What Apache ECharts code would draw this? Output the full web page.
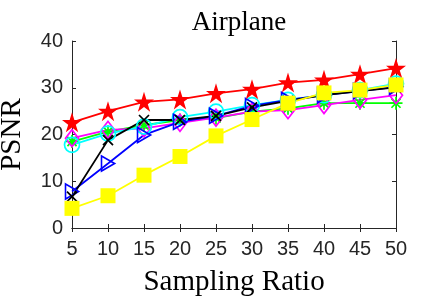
<!DOCTYPE html>
<html><head><meta charset="utf-8">
<script src="https://cdn.jsdelivr.net/npm/echarts@6/dist/echarts.min.js"></script>
<style>html,body{margin:0;padding:0;background:#fff}#c{width:438px;height:297px}</style>
</head><body><div id="c"></div>
<script>
const ratios = [5,10,15,20,25,30,35,40,45,50];
const xTicks = [5,10,15,20,25,30,35,40,45,50];
const yTicks = [0,10,20,30,40];
const greenAst = [18.5,20.6,22.0,23.1,23.5,24.9,25.6,26.7,26.7,26.7];
const magentaDia = [19.2,21.0,21.3,22.5,23.6,24.9,25.2,26.3,27.4,28.4];
const cyanCirc = [17.8,20.2,21.7,23.7,24.9,26.3,27.4,28.4,29.5,30.9];
const blueTri = [7.8,13.8,19.9,22.7,24.0,26.1,27.4,28.4,29.3,30.2];
const blackX = [6.7,18.8,23.1,23.1,24.0,25.8,27.2,28.4,29.3,30.1];
const redStar = [22.6,25.0,27.0,27.5,28.8,29.7,31.1,31.7,32.9,34.2];
const yellowSq = [4.2,6.9,11.3,15.3,19.7,23.2,26.7,28.9,29.5,30.6];

const STAR = 'path://M50,0 L61.2,34.6 L97.6,34.5 L68.1,55.9 L79.4,90.5 L50,69 L20.6,90.5 L31.9,55.9 L2.4,34.5 L38.8,34.6 Z';
const AST = 'path://M0,50 L100,50 M50,0 L50,100 M15,15 L85,85 M85,15 L15,85';
const XS = 'path://M0,0 L100,100 M100,0 L0,100';
const TRI = 'path://M0,0 L100,55 L0,110 Z';

function pairs(v){ return ratios.map((r,i)=>[r,v[i]]); }
function ser(data, color, symbol, size, filled){
  return {type:'line', data:pairs(data), symbol:symbol, symbolSize:size, showSymbol:true,
    lineStyle:{color:color,width:1.8},
    itemStyle:{color: filled?color:'rgba(0,0,0,0)', borderColor:color, borderWidth: filled?0:1.7},
    emphasis:{disabled:true}, animation:false};
}
const axisCol = '#262626';
const chart = echarts.init(document.getElementById('c'), null, {renderer:'canvas'});
chart.setOption({
  animation:false,
  title:{text:'Airplane', left:234, top:4, textAlign:'center',
    textStyle:{fontFamily:'Liberation Serif', fontSize:27, fontWeight:'normal', color:'#000'}},
  grid:{left:72, right:42, top:41, bottom:69, containLabel:false, outerBoundsMode:'none'},
  xAxis:[{type:'value', min:5, max:50, interval:5,
    name:'Sampling Ratio', nameLocation:'middle', nameGap:40,
    nameTextStyle:{fontFamily:'Liberation Serif', fontSize:29, color:'#000'},
    axisLine:{lineStyle:{color:axisCol,width:1}}, axisTick:{inside:true,length:4,lineStyle:{color:axisCol}},
    axisLabel:{fontFamily:'Liberation Sans', fontSize:20, color:axisCol, margin:11,
      formatter:v=>xTicks.includes(v)?String(v):''},
    splitLine:{show:false}},
   {type:'value', position:'top', min:5, max:50, interval:5,
    axisLine:{lineStyle:{color:axisCol,width:1}}, axisTick:{inside:true,length:4,lineStyle:{color:axisCol}},
    axisLabel:{show:false}, splitLine:{show:false}}],
  yAxis:[{type:'value', min:0, max:40, interval:10,
    name:'PSNR', nameLocation:'middle', nameGap:45, nameRotate:90,
    nameTextStyle:{fontFamily:'Liberation Serif', fontSize:29, color:'#000'},
    axisLine:{show:true,lineStyle:{color:axisCol,width:1}}, axisTick:{show:true,inside:true,length:4,lineStyle:{color:axisCol}},
    axisLabel:{fontFamily:'Liberation Sans', fontSize:20, color:axisCol, margin:9,
      formatter:v=>yTicks.includes(v)?String(v):''},
    splitLine:{show:false}},
   {type:'value', position:'right', min:0, max:40, interval:10,
    axisLine:{show:true,lineStyle:{color:axisCol,width:1}}, axisTick:{show:true,inside:true,length:4,lineStyle:{color:axisCol}},
    axisLabel:{show:false}, splitLine:{show:false}}],
  series:[
    ser(greenAst,'#00ff00',AST,13,false),
    ser(magentaDia,'#ff00ff','diamond',[13,17],false),
    ser(cyanCirc,'#00ffff','circle',15,false),
    ser(blueTri,'#0000ff',TRI,[13,15],false),
    ser(blackX,'#000000',XS,10,false),
    ser(redStar,'#ff0000',STAR,20,true),
    ser(yellowSq,'#ffff00','rect',15,true)
  ]
});
</script></body></html>
